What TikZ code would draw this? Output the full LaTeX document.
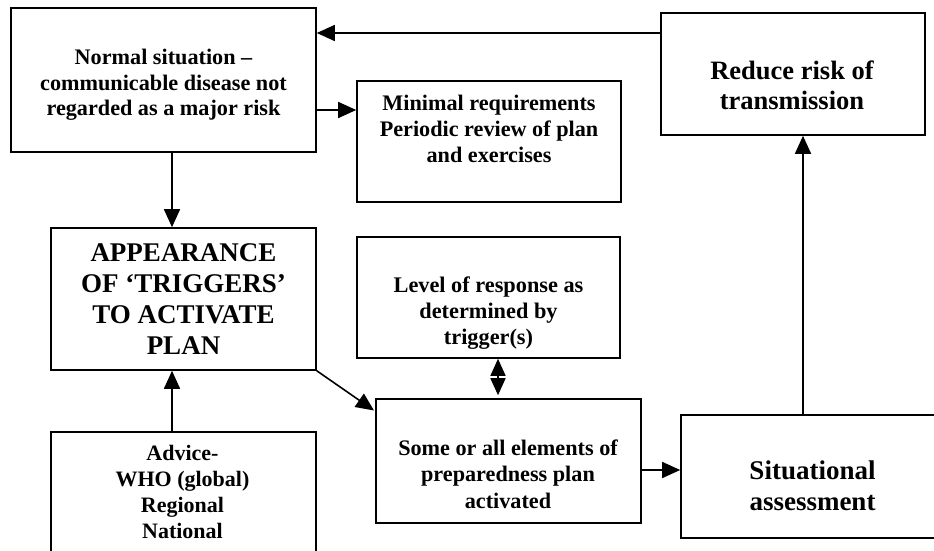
\documentclass[tikz,border=0pt]{standalone}
\usepackage{fontspec}
\setmainfont{Liberation Serif}
\usetikzlibrary{arrows.meta}
\tikzset{
  box/.style={draw, line width=1.6pt, inner sep=0pt},
  txt/.style={align=center, inner sep=0pt},
  arr/.style={line width=1.6pt, -{Triangle[length=18pt,width=16pt]}},
  darr/.style={line width=1.6pt, {Triangle[length=17pt,width=15pt]}-{Triangle[length=17pt,width=15pt]}},
  plain/.style={line width=1.6pt}
}
\newcommand{\fs}[2]{\fontsize{#1}{#2}\selectfont\bfseries}
\begin{document}
\begin{tikzpicture}[x=1pt,y=-1pt]
\useasboundingbox (0,0) rectangle (934,551);
\clip (0,0) rectangle (934,551);
% boxes
\node[box, minimum width=305pt, minimum height=144pt] (norm) at (163.5,80) {};
\node[box, minimum width=264pt, minimum height=121pt] (mini) at (489,141.5) {};
\node[box, minimum width=264pt, minimum height=122pt] (red) at (793,74) {};
\node[box, minimum width=265pt, minimum height=142pt] (app) at (183.5,299) {};
\node[box, minimum width=263pt, minimum height=121pt] (lev) at (488.5,297.5) {};
\node[box, minimum width=265pt, minimum height=133pt] (adv) at (183.5,498.5) {};
\node[box, minimum width=265pt, minimum height=124pt] (el) at (508.5,461) {};
\node[box, minimum width=269pt, minimum height=123pt] (sit) at (815.5,476.5) {};
% texts
\node[txt, font=\fs{22.2}{25.5}] (normT) at (163.5,85) {Normal situation –\\communicable disease not\\regarded as a major risk};
\node[txt, font=\fs{22.2}{26}] (miniT) at (489,129) {Minimal requirements\\Periodic review of plan\\and exercises};
\node[txt, font=\fs{26.5}{30}] (redT) at (792,85) {Reduce risk of\\transmission};
\node[txt, font=\fs{27}{31}] (appT) at (183.5,299.5) {APPEARANCE\\OF ‘TRIGGERS’\\TO ACTIVATE\\PLAN};
\node[txt, font=\fs{22.3}{26}] (levT) at (488.5,313) {Level of response as\\determined by\\trigger(s)};
\node[txt, font=\fs{22}{25.7}] (advT) at (182.5,492) {Advice-\\WHO (global)\\Regional\\National};
\node[txt, font=\fs{22.2}{26.5}] (elT) at (508,474) {Some or all elements of\\preparedness plan\\activated};
\node[txt, font=\fs{27}{31}] (sitT) at (812.5,486) {Situational\\assessment};
% helper coordinates
\coordinate (ya) at (0,33);
\coordinate (yb) at (0,110);
\coordinate (xa) at (172,0);
\coordinate (xb) at (498,0);
\coordinate (yc) at (0,470);
\coordinate (xc) at (803,0);
\coordinate (diagEnd) at (374,410.5);
% connectors
\draw[arr] (red.west |- ya) -- (norm.east |- ya);
\draw[arr] (norm.east |- yb) -- (mini.west |- yb);
\draw[arr] (norm.south -| xa) -- (app.north -| xa);
\draw[arr] (adv.north -| xa) -- (app.south -| xa);
\draw[arr] (app.south east) -- (diagEnd);
\draw[darr, shorten >=3pt] (lev.south -| xb) -- (el.north -| xb);
\draw[arr] (el.east |- yc) -- (sit.west |- yc);
\draw[arr] (sit.north -| xc) -- (red.south -| xc);
\end{tikzpicture}
\end{document}
